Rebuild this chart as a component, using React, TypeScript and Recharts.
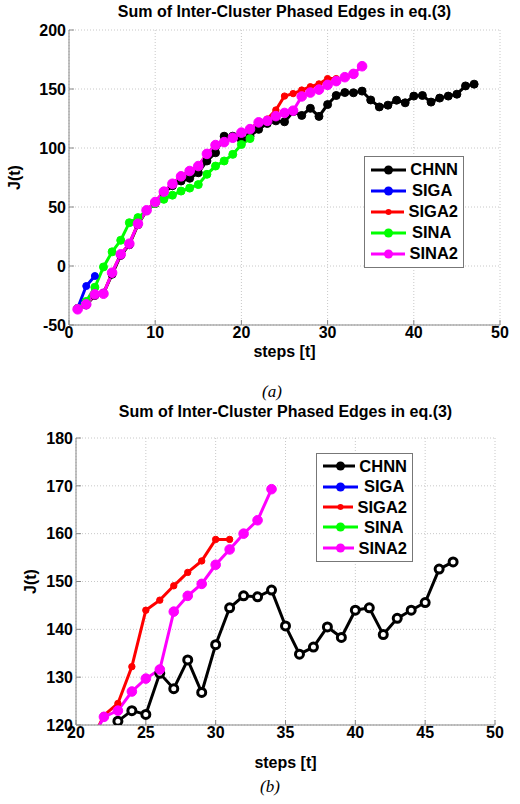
import { LineChart, Line, XAxis, YAxis, CartesianGrid } from "recharts";

const steps = Array.from({ length: 47 }, (_, i) => i + 1);

const chnn = [
  -36, -33, -25, -23, -7, 9, 18, 35, 47, 53, 62, 68, 72, 74.3, 79, 89, 96, 110, 110, 107, 110, 115.8, 120.8, 123,
  122.2, 130.8, 127.6, 133.6, 126.8, 136.8, 144.5, 147, 146.8, 148.2, 140.7, 134.8, 136.3, 140.5, 138.3, 144,
  144.5, 138.9, 142.3, 144, 145.6, 152.6, 154.1,
];
const siga = [-35.8, -17, -8.5];
const siga2 = [
  -36.5, -32.5, -24, -23.5, -5.7, 9.9, 18.9, 35.8, 47.2, 54.2, 63, 69.7, 76, 80.5, 84.7, 95, 102.5, 105, 108.7,
  113, 116, 122, 124.5, 132.2, 144, 146.1, 149.1, 151.9, 154.3, 158.8, 158.8,
];
const sina = [
  -36, -30, -18, -0.8, 12, 21.8, 36.7, 41, 47, 53, 56.5, 60, 63.5, 66, 69, 77.7, 84.7, 89, 94.6, 103, 108,
];
const sina2 = [
  -36.7, -32.5, -24, -23.5, -5.7, 9.9, 18.9, 35.8, 47.2, 54.2, 63, 69.7, 76, 80.5, 84.7, 95, 102.5, 105, 108.7,
  113, 116, 121.7, 123, 127, 129.7, 131.6, 143.7, 147, 149.5, 153.5, 156.7, 160, 162.8, 169.3,
];

const xTicksA = [0, 10, 20, 30, 40, 50];
const yTicksA = [-50, 0, 50, 100, 150, 200];
const xTicksB = [20, 25, 30, 35, 40, 45, 50];
const yTicksB = [120, 130, 140, 150, 160, 170, 180];

const data = steps.map((t, i) => ({
  t,
  chnn: chnn[i],
  siga: siga[i],
  siga2: siga2[i],
  sina: sina[i],
  sina2: sina2[i],
}));

const FONT = "'Liberation Sans', Arial, sans-serif";
const tickStyle = { fill: "#000", fontSize: 16, fontWeight: 700, fontFamily: FONT };

const series = [
  { key: "chnn", name: "CHNN", color: "#000000", r: 4 },
  { key: "siga", name: "SIGA", color: "#0000ff", r: 3.5 },
  { key: "siga2", name: "SIGA2", color: "#ff0000", r: 3.2 },
  { key: "sina", name: "SINA", color: "#00ff00", r: 4 },
  { key: "sina2", name: "SINA2", color: "#ff00ff", r: 4.8 },
];

function makeDot(color: string, r: number, hollow: boolean) {
  return (props: any) => {
    const { cx, cy, index } = props;
    if (cx == null || cy == null || props.value == null) return <g key={index} />;
    if (hollow) {
      return <circle key={index} cx={cx} cy={cy} r={r} fill="#fff" stroke={color} strokeWidth={3} />;
    }
    return <circle key={index} cx={cx} cy={cy} r={r} fill={color} stroke={color} strokeWidth={1} />;
  };
}

function LegendBox({ left, top, width, rowH }: { left: number; top: number; width: number; rowH: number }) {
  return (
    <div
      style={{
        position: "absolute",
        left,
        top,
        width,
        boxSizing: "border-box",
        border: "1px solid #777",
        background: "#fff",
        padding: "2px 5px 3px 5px",
        fontFamily: FONT,
        fontWeight: 700,
        fontSize: 16.5,
        lineHeight: 1,
      }}
    >
      {series.map((s) => (
        <div key={s.key} style={{ display: "flex", alignItems: "center", height: rowH }}>
          <svg width={38} height={12}>
            <line x1={1} y1={6} x2={36} y2={6} stroke={s.color} strokeWidth={3} />
            <circle cx={18.5} cy={6} r={s.key === "siga2" ? 3 : 4.5} fill={s.color} />
          </svg>
          <span style={{ marginLeft: 4 }}>{s.name}</span>
        </div>
      ))}
    </div>
  );
}

interface PlotProps {
  height: number;
  xDomain: [number, number];
  yDomain: [number, number];
  xTicks: number[];
  yTicks: number[];
  yAxisWidth: number;
  marginTop: number;
  marginRight: number;
  marginBottom: number;
  hollow: boolean;
  yLabelOffset: number;
  xLabelOffset: number;
}

function Plot(p: PlotProps) {
  return (
    <LineChart
      width={520}
      height={p.height}
      data={data}
      margin={{ top: p.marginTop, right: p.marginRight, bottom: p.marginBottom, left: 0 }}
    >
      <CartesianGrid stroke="#c8c8c8" strokeDasharray="1 2" horizontalValues={p.yTicks} verticalValues={p.xTicks} />
      <XAxis
        dataKey="t"
        type="number"
        domain={p.xDomain}
        ticks={p.xTicks}
        allowDataOverflow
        height={30}
        tick={tickStyle}
        tickSize={-5}
        tickMargin={7}
        stroke="#888"
        interval={0}
        label={{
          value: "steps [t]",
          position: "insideBottom",
          offset: p.xLabelOffset,
          fill: "#000",
          fontSize: 16,
          fontWeight: 700,
          fontFamily: FONT,
        }}
      />
      <XAxis
        xAxisId="top"
        orientation="top"
        dataKey="t"
        type="number"
        domain={p.xDomain}
        ticks={p.xTicks}
        allowDataOverflow
        height={0}
        tickSize={-5}
        tickFormatter={() => ""}
        stroke="#888"
      />
      <YAxis
        type="number"
        domain={p.yDomain}
        ticks={p.yTicks}
        allowDataOverflow
        width={p.yAxisWidth}
        tick={tickStyle}
        tickSize={-5}
        tickMargin={8}
        stroke="#888"
        interval={0}
        label={{
          value: "J(t)",
          angle: -90,
          position: "insideLeft",
          offset: p.yLabelOffset,
          fill: "#000",
          fontSize: 16,
          fontWeight: 700,
          fontFamily: FONT,
          style: { textAnchor: "middle" },
        }}
      />
      <YAxis
        yAxisId="right"
        orientation="right"
        type="number"
        domain={p.yDomain}
        ticks={p.yTicks}
        allowDataOverflow
        width={0}
        tickSize={-5}
        tickFormatter={() => ""}
        stroke="#888"
      />
      {series.map((s) => (
        <Line
          key={s.key}
          dataKey={s.key}
          name={s.name}
          type="linear"
          stroke={s.color}
          strokeWidth={3}
          dot={makeDot(s.color, s.r, s.key === "chnn" && p.hollow)}
          activeDot={false}
          isAnimationActive={false}
        />
      ))}
    </LineChart>
  );
}

const titleStyle: React.CSSProperties = {
  position: "absolute",
  fontFamily: FONT,
  fontWeight: 700,
  fontSize: 16,
  textAlign: "center",
  whiteSpace: "nowrap",
};

const captionStyle: React.CSSProperties = {
  position: "absolute",
  fontFamily: "'Liberation Serif', 'Times New Roman', serif",
  fontStyle: "italic",
  fontSize: 17,
  width: 520,
  textAlign: "center",
};

export default function App() {
  return (
    <div style={{ position: "absolute", left: 0, top: 0, width: 520, height: 804, background: "#fff", overflow: "hidden" }}>
      <div style={{ ...titleStyle, left: 69, width: 431, top: 3 }}>Sum of Inter-Cluster Phased Edges in eq.(3)</div>
      <div style={{ position: "absolute", left: 0, top: 0 }}>
        <Plot
          height={370}
          xDomain={[0, 50]}
          yDomain={[-50, 200]}
          xTicks={xTicksA}
          yTicks={yTicksA}
          yAxisWidth={69}
          marginTop={30}
          marginRight={20}
          marginBottom={15}
          hollow={false}
          yLabelOffset={14}
          xLabelOffset={-2}
        />
      </div>
      <LegendBox left={364} top={156} width={100} rowH={21} />
      <div style={{ ...captionStyle, left: 12, top: 382 }}>(a)</div>
      <div style={{ ...titleStyle, left: 76, width: 419, top: 403 }}>Sum of Inter-Cluster Phased Edges in eq.(3)</div>
      <div style={{ position: "absolute", left: 0, top: 400 }}>
        <Plot
          height={385}
          xDomain={[20, 50]}
          yDomain={[120, 180]}
          xTicks={xTicksB}
          yTicks={yTicksB}
          yAxisWidth={76}
          marginTop={38}
          marginRight={25}
          marginBottom={30}
          hollow={true}
          yLabelOffset={30}
          xLabelOffset={-13}
        />
      </div>
      <LegendBox left={316} top={453} width={97} rowH={20.4} />
      <div style={{ ...captionStyle, left: 10, top: 777 }}>(b)</div>
    </div>
  );
}
